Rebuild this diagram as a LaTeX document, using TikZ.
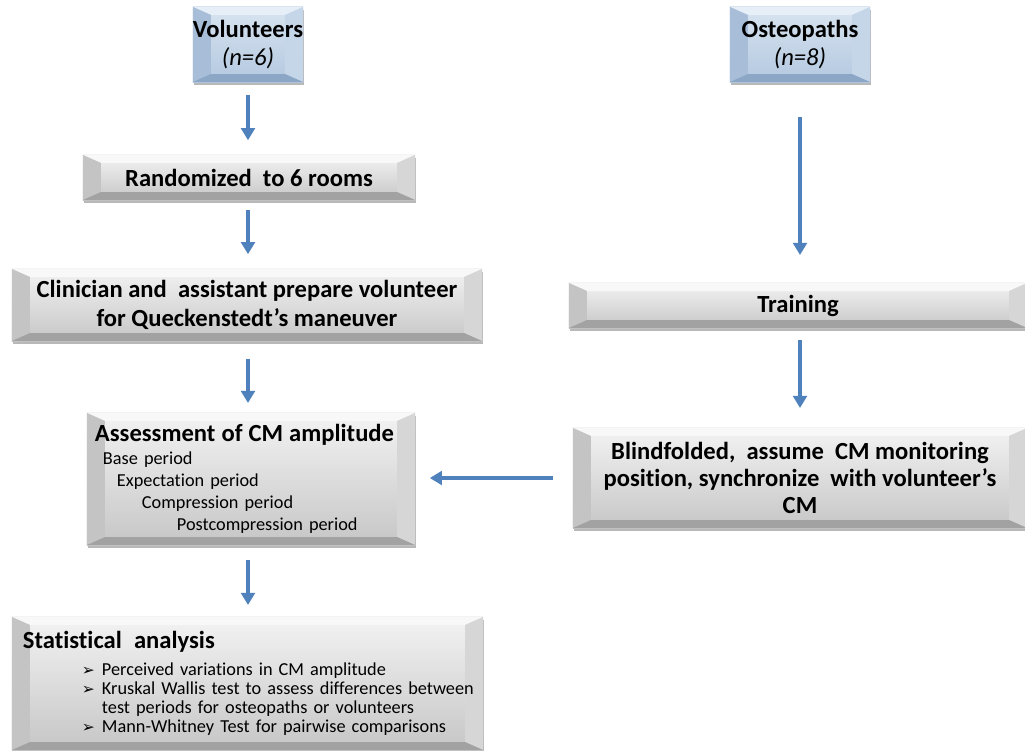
\documentclass[tikz,border=0pt]{standalone}
\usepackage{fontspec}
\setmainfont{Carlito}[Ligatures=NoCommon]
\newfontfamily\symfont{DejaVu Sans}
\usetikzlibrary{arrows.meta,calc,shadows}

\definecolor{arrowblue}{HTML}{4F81BD}
% gray bevel palette
\definecolor{gface1}{HTML}{F3F3F3}
\definecolor{gface2}{HTML}{C6C6C6}
\definecolor{gtop}{HTML}{F8F8F8}
\definecolor{gleft}{HTML}{C4C4C4}
\definecolor{gright}{HTML}{D6D6D6}
\definecolor{gbottom}{HTML}{A2A2A2}
% blue bevel palette
\definecolor{bface1}{HTML}{D9E4F0}
\definecolor{bface2}{HTML}{B3C8E0}
\definecolor{btop}{HTML}{E6EEF7}
\definecolor{bleft}{HTML}{A7BDD8}
\definecolor{bright}{HTML}{C6D6E9}
\definecolor{bbottom}{HTML}{8CA6C6}

\tikzset{
  bevelbox/.style={
    rectangle, inner sep=0pt, outer sep=0pt,
    top color=#1face1, bottom color=#1face2,
    drop shadow={shadow xshift=0.03cm, shadow yshift=-0.08cm, fill=black, opacity=0.28},
    path picture={
      \path (path picture bounding box.north west) coordinate (pNW)
            (path picture bounding box.north east) coordinate (pNE)
            (path picture bounding box.south east) coordinate (pSE)
            (path picture bounding box.south west) coordinate (pSW);
      \path ($(pNW)+(0.45cm,-0.2cm)$) coordinate (iNW)
            ($(pNE)+(-0.45cm,-0.2cm)$) coordinate (iNE)
            ($(pSE)+(-0.45cm,0.2cm)$) coordinate (iSE)
            ($(pSW)+(0.45cm,0.2cm)$) coordinate (iSW);
      \fill[#1top] (pNW) -- (pNE) -- (iNE) -- (iNW) -- cycle;
      \fill[#1left] (pNW) -- (iNW) -- (iSW) -- (pSW) -- cycle;
      \fill[#1right] (pNE) -- (pSE) -- (iSE) -- (iNE) -- cycle;
      \fill[#1bottom] (pSW) -- (iSW) -- (iSE) -- (pSE) -- cycle;
    }
  },
  titlefont/.style={font=\fontsize{17.5}{20}\bfseries\selectfont},
  flow/.style={draw=arrowblue, line width=0.1cm,
    -{Triangle[length=0.3cm,width=0.34cm]}},
}

\begin{document}
\begin{tikzpicture}[x=0.025cm,y=-0.025cm]
\useasboundingbox (0,0) rectangle (1025,750);

% top blue boxes
\node[bevelbox=b, minimum width=2.75cm, minimum height=1.875cm, align=center,
      font=\fontsize{17.5}{19.5}\selectfont]
  (vol) at (248,44.5)
  {\textbf{Volunteers}\\\textit{(n=6)}};
\node[bevelbox=b, minimum width=3.5cm, minimum height=1.875cm, align=center,
      font=\fontsize{17.5}{19.5}\selectfont]
  (ost) at (800,44.5)
  {\textbf{Osteopaths}\\\textit{(n=8)}};

% left column
\node[bevelbox=g, titlefont, minimum width=8.3cm, minimum height=1.125cm]
  (rand) at (249,177.5) {Randomized\ \ to 6 rooms};
\node[bevelbox=g, minimum width=11.75cm, minimum height=1.8cm, align=center,
      font=\fontsize{17.5}{21}\bfseries\selectfont]
  (clin) at (247,305)
  {Clinician and\ \ assistant prepare volunteer\\for Queckenstedt’s maneuver};
\node[bevelbox=g, minimum width=8.2cm, minimum height=3.3cm,
      text width=7.8cm, inner xsep=0.2cm, align=left,
      font=\fontsize{13}{15.6}\selectfont]
  (assess) at (251,479)
  {\mbox{\fontsize{17.5}{17.5}\bfseries\selectfont Assessment of CM amplitude}\\[0.8pt]
   \mbox{\hspace*{0.2cm}Base period}\\
   \mbox{\hspace*{0.55cm}Expectation period}\\
   \mbox{\hspace*{1.175cm}Compression period}\\
   \mbox{\hspace*{2.05cm}Postcompression period}};
\node[bevelbox=g, minimum width=11.775cm, minimum height=3.325cm,
      text width=11.225cm, inner xsep=0.275cm, align=left,
      font=\fontsize{13}{13.6}\selectfont]
  (stat) at (247.5,683.5)
  {\mbox{\fontsize{17.5}{17.5}\bfseries\selectfont Statistical\ \ analysis}\\[5.6pt]
   \mbox{\hspace*{1.475cm}\makebox[0.5cm][l]{\symfont\fontsize{11}{11}\selectfont ➢}Perceived variations in CM amplitude}\\
   \mbox{\hspace*{1.475cm}\makebox[0.5cm][l]{\symfont\fontsize{11}{11}\selectfont ➢}Kruskal Wallis test to assess differences between}\\
   \mbox{\hspace*{1.975cm}test periods\ for osteopaths or volunteers}\\
   \mbox{\hspace*{1.475cm}\makebox[0.5cm][l]{\symfont\fontsize{11}{11}\selectfont ➢}Mann-Whitney Test for pairwise comparisons}};

% right column
\node[bevelbox=g, titlefont, minimum width=11.45cm, minimum height=1.125cm]
  (train) at (798,305.5) {Training};
\node[bevelbox=g, minimum width=11.35cm, minimum height=2.5cm, align=center,
      font=\fontsize{17.5}{19.5}\bfseries\selectfont]
  (blind) at (800,478)
  {Blindfolded,\ \ assume\ \ CM monitoring\\position, synchronize\ \ with volunteer’s\\CM};

% connectors
\draw[flow, shorten <=0.32cm, shorten >=0.37cm] (vol.south) -- (vol.south |- rand.north);
\draw[flow, shorten <=0.25cm, shorten >=0.37cm] (vol.south |- rand.south) -- (vol.south |- clin.north);
\draw[flow, shorten <=0.45cm, shorten >=0.25cm] (vol.south |- clin.south) -- (vol.south |- assess.north);
\draw[flow, shorten <=0.37cm, shorten >=0.3cm] (vol.south |- assess.south) -- (vol.south |- stat.north);
\draw[flow, shorten <=0.88cm, shorten >=0.7cm] (ost.south) -- (ost.south |- train.north);
\draw[flow, shorten <=0.3cm, shorten >=0.5cm] (ost.south |- train.south) -- (ost.south |- blind.north);
\draw[flow, shorten <=0.5cm, shorten >=0.37cm] (blind.west) -- (blind.west -| assess.east);
\end{tikzpicture}
\end{document}
